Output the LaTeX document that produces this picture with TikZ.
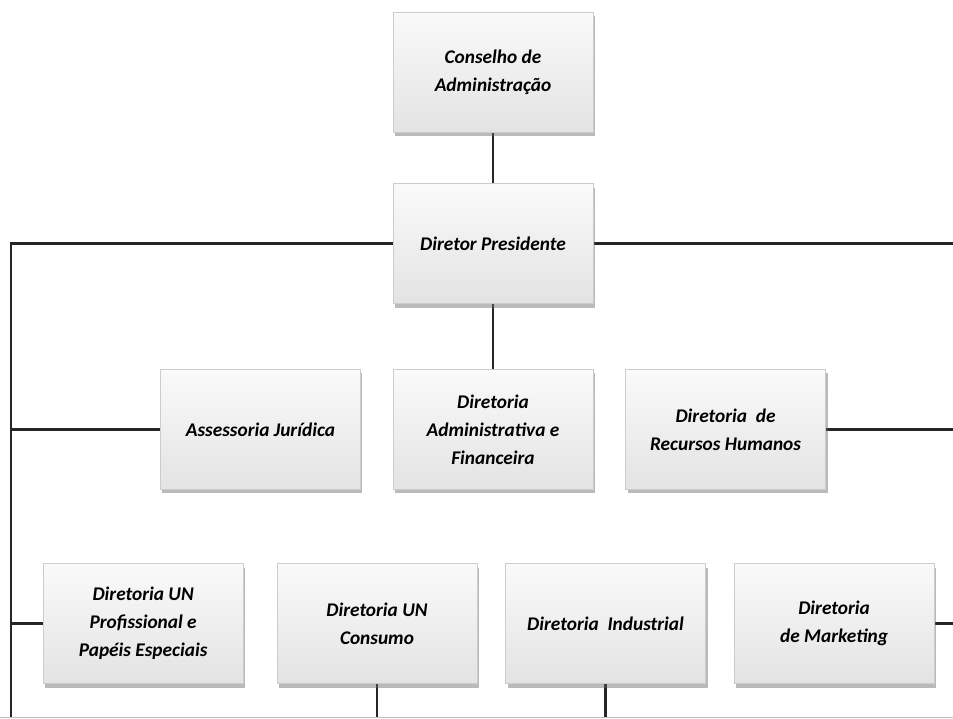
\documentclass[tikz,border=0pt]{standalone}
\usepackage{fontspec}
\setsansfont{Carlito}
\usetikzlibrary{positioning,shadows,backgrounds}

\begin{document}
\begin{tikzpicture}[
    x=0.75pt,y=-0.75pt,
    cargo/.style={rectangle,minimum width=150pt,minimum height=90pt,
                  align=center,draw=gray!40,line width=0.4pt,
                  top color=gray!4,bottom color=gray!22,middle color=gray!13,
                  drop shadow={shadow xshift=1.5pt,shadow yshift=-3pt,
                               opacity=0.45,fill=gray!80!black},
                  font=\sffamily\bfseries\itshape\fontsize{14.5}{21}\selectfont},
    elo/.style={line width=2pt,black!85},
  ]
  \useasboundingbox (0,0) rectangle (953,718);

  % topo
  \node[cargo] (pres) at (493,243.5) {Diretor Presidente};
  \node[cargo,above=38pt of pres] (cons) {Conselho de\\Administração};

  % diretorias
  \node[cargo,below=49pt of pres] (adm) {Diretoria\\Administrativa e\\Financeira};
  \node[cargo,left=24pt of adm]  (jur) {Assessoria Jurídica};
  \node[cargo,right=24pt of adm] (rh)  {Diretoria~ de\\Recursos Humanos};

  % unidades
  \node[cargo] (con) at (377,623.5) {Diretoria UN\\Consumo};
  \node[cargo,left=25pt of con]  (prof) {Diretoria UN\\Profissional e\\Papéis Especiais};
  \node[cargo,right=21pt of con] (ind)  {Diretoria~ Industrial};
  \node[cargo,right=21pt of ind] (mkt)  {Diretoria\\de Marketing};

  % linhas
  \coordinate (esq)  at (11,243.5);
  \coordinate (dir)  at (953,243.5);
  \coordinate (base) at (0,718);
  \begin{scope}[on background layer]
    \draw[elo] (cons) -- (pres);
    \draw[elo] (pres) -- (adm);
    \draw[elo] (pres.west) -- (esq) -- (esq |- base);
    \draw[elo] (pres.east) -- (dir);
    \draw[elo] (jur.west)  -- (esq |- jur);
    \draw[elo] (rh.east)   -- (dir |- rh);
    \draw[elo] (prof.west) -- (esq |- prof);
    \draw[elo] (mkt.east)  -- (dir |- mkt);
    \draw[elo] (con.south) -- (con |- base);
    \draw[elo] (ind.south) -- (ind |- base);
  \end{scope}

  % moldura
  \draw[gray!50,line width=0.5pt] (0,717) -- (953,717);

\end{tikzpicture}
\end{document}
